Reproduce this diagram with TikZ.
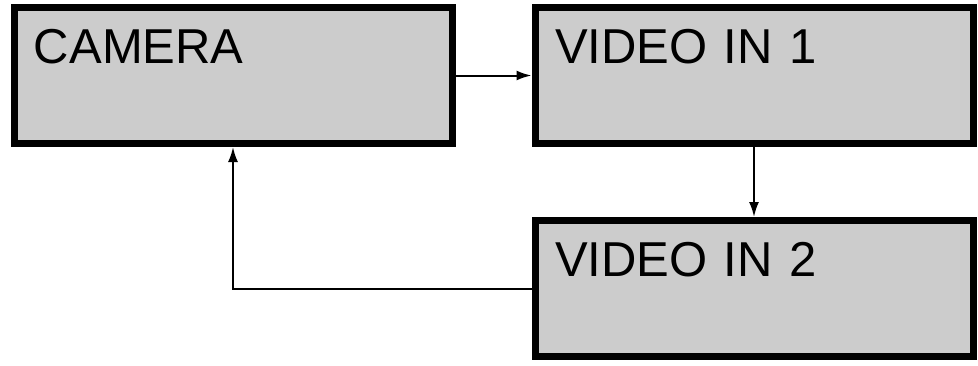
\documentclass[tikz,border=0pt]{standalone}
\usepackage{fontspec}
\setmainfont[WordSpace=0.6]{Liberation Sans}
\usetikzlibrary{positioning,arrows.meta}

\begin{document}
\begin{tikzpicture}[x=1pt,y=-1pt]
\def\W{438pt}
\def\H{136pt}
\colorlet{box color}{black!20}
\tikzset{
  every node/.style={font=\fontsize{49}{58}\selectfont},
  unit/.style={draw,fill=box color,line width=7pt,inner xsep=20pt,inner ysep=0pt,
    text width=\W-40pt,align=left,text height=55.5pt,text depth=\H-55.5pt,
    minimum width=\W,minimum height=\H},
  signal/.style={-{Latex[length=15pt,width=10pt]},line width=2pt,draw}
}
\useasboundingbox (0,0) rectangle (978,365);

%BOXES
\node[unit] (CAM) at (233,75.5) {CAMERA};
\node[unit] (VIN1) [right=76pt of CAM] {VIDEO IN 1};
\node[unit] (VIN2) [below=70pt of VIN1] {VIDEO IN 2};

%PATHS
\path[signal] (CAM.east) -- (VIN1.west);
\path[signal] (VIN1.south) -- (VIN2.north);
%%back
\path[signal] (VIN2.west) -| (CAM.south);

\end{tikzpicture}
\end{document}
